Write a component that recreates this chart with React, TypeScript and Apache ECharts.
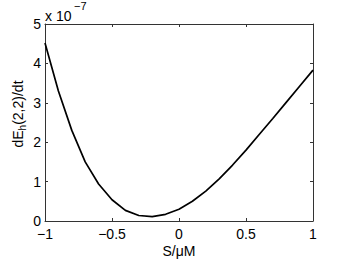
import React, { useEffect, useRef } from "react";
import * as echarts from "echarts";

const sValues = [-1, -0.9, -0.8, -0.7, -0.6, -0.5, -0.4, -0.3, -0.2, -0.1, 0, 0.1, 0.2, 0.3, 0.4, 0.5, 0.6, 0.7, 0.8, 0.9, 1];
// dE_h(2,2)/dt in units of 1e-7
const rateValues = [4.52, 3.3, 2.3, 1.5, 0.94, 0.54, 0.27, 0.14, 0.11, 0.17, 0.3, 0.5, 0.76, 1.07, 1.42, 1.8, 2.2, 2.6, 3.01, 3.42, 3.83];
const xTicks = [-1, -0.5, 0, 0.5, 1];
const yTicks = [0, 1, 2, 3, 4, 5];

const FONT = "Liberation Sans, Arial, Helvetica, sans-serif";

export default function App() {
  const ref = useRef<HTMLDivElement>(null);
  useEffect(() => {
    if (!ref.current) return;
    document.body.style.margin = "0";
    const chart = echarts.init(ref.current, undefined, { renderer: "svg" });
    const fmt = (v: number) => String(v).replace("-", "\u2212");
    const axisCommon = {
      axisLine: { show: true, onZero: false, lineStyle: { color: "#333", width: 1 } },
      axisTick: { show: true, inside: true, length: 3, lineStyle: { color: "#333" } },
      splitLine: { show: false },
    };
    chart.setOption({
      animation: false,
      backgroundColor: "#fff",
      grid: { left: 45, right: 33, top: 24, bottom: 40, containLabel: false },
      xAxis: [
        {
          type: "value",
          min: xTicks[0],
          max: xTicks[xTicks.length - 1],
          interval: 0.5,
          position: "bottom",
          ...axisCommon,
          axisLabel: { show: true, margin: 6, fontSize: 14, lineHeight: 14, color: "#000", fontFamily: FONT, formatter: fmt },
        },
        {
          type: "value",
          min: xTicks[0],
          max: xTicks[xTicks.length - 1],
          interval: 0.5,
          position: "top",
          ...axisCommon,
          axisLabel: { show: false },
        },
      ],
      yAxis: [
        {
          type: "value",
          min: yTicks[0],
          max: yTicks[yTicks.length - 1],
          interval: 1,
          position: "left",
          ...axisCommon,
          axisLabel: { show: true, margin: 4, fontSize: 14, color: "#000", fontFamily: FONT, formatter: fmt },
        },
        {
          type: "value",
          min: yTicks[0],
          max: yTicks[yTicks.length - 1],
          interval: 1,
          position: "right",
          ...axisCommon,
          axisLabel: { show: false },
        },
      ],
      series: [
        {
          type: "line",
          xAxisIndex: 0,
          yAxisIndex: 0,
          data: sValues.map((s, i) => [s, rateValues[i]]),
          showSymbol: false,
          symbol: "none",
          lineStyle: { color: "#000", width: 1.7 },
        },
      ],
      graphic: [
        {
          type: "text",
          x: 45,
          y: 15.5,
          style: { text: "x 10", fontSize: 14, fontFamily: FONT, fill: "#000", align: "left", verticalAlign: "middle" },
        },
        {
          type: "text",
          x: 74,
          y: 6,
          style: { text: "\u22127", fontSize: 11, fontFamily: FONT, fill: "#000", align: "left", verticalAlign: "middle" },
        },
        {
          type: "text",
          x: 18,
          y: 114,
          rotation: Math.PI / 2,
          style: {
            text: "{a|dE}{s|h}{a|(2,2)/dt}",
            align: "center",
            verticalAlign: "middle",
            fill: "#000",
            rich: {
              a: { fontSize: 14, fontFamily: FONT, lineHeight: 18, verticalAlign: "middle" },
              s: { fontSize: 10, fontFamily: FONT, lineHeight: 10, verticalAlign: "bottom", padding: [6, 0, 0, 0] },
            },
          },
        },
        {
          type: "text",
          x: 179,
          y: 250.5,
          style: { text: "S/\u03bcM", fontSize: 14, lineHeight: 14, fontFamily: FONT, fill: "#000", align: "center", verticalAlign: "middle" },
        },
      ],
    });
    return () => chart.dispose();
  }, []);
  return <div ref={ref} style={{ width: 346, height: 261 }} />;
}
